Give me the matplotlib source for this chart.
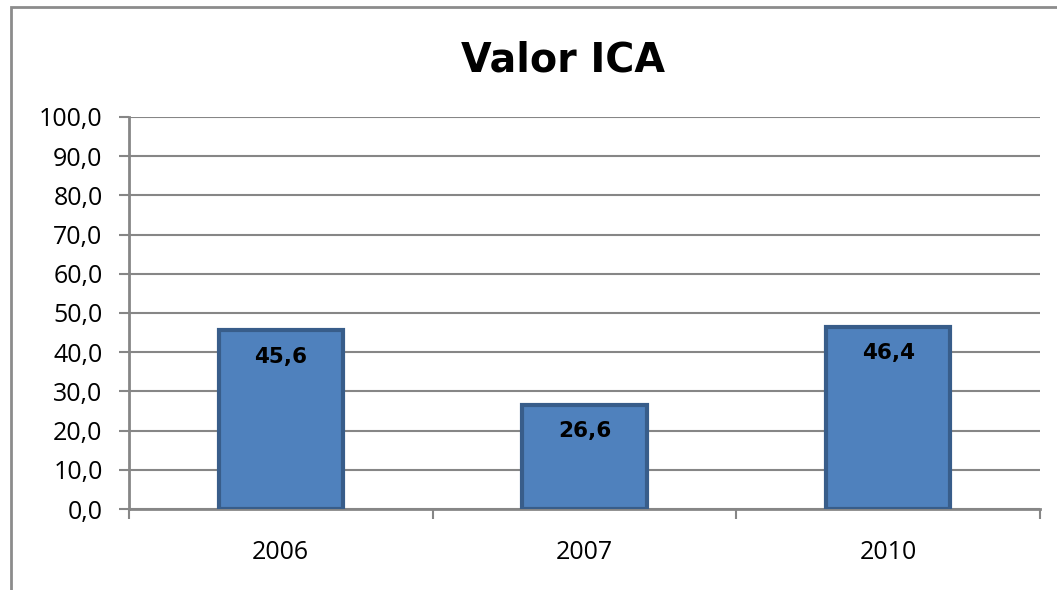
import matplotlib.pyplot as plt
import matplotlib.patches as mpatches
import numpy as np

years = ['2006', '2007', '2010']
ica = [45.6, 26.6, 46.4]

plt.rcParams['font.family'] = ['Open Sans', 'DejaVu Sans']

fig = plt.figure(figsize=(10.57, 5.9), dpi=100)
ax = fig.add_axes([0.122, 0.137, 0.862, 0.665])

# chart frame
fig.patches.append(mpatches.Rectangle((11 / 1057, -0.1), 1.2, 0.988 + 0.1,
                                      transform=fig.transFigure, fill=False,
                                      edgecolor='#8c8c8c', linewidth=2))

x = np.arange(len(years))
bars = ax.bar(x, ica, width=0.41, color='#4F81BD', edgecolor='#385D8A',
              linewidth=3, zorder=3)

for xi, v in zip(x, ica):
    ax.text(xi, v - 6.7, f'{v:.1f}'.replace('.', ','), ha='center', va='center',
            fontsize=15.5, fontweight='bold', color='black', zorder=4,
            family=['DejaVu Sans'])

ax.set_xlim(-0.5, 2.5)
ax.set_ylim(0, 100)
ax.set_yticks(np.arange(0, 101, 10))
ax.set_yticklabels([f'{v:.1f}'.replace('.', ',') for v in np.arange(0, 101, 10)],
                   fontsize=18)
ax.set_xticks(x)
ax.set_xticklabels(years, fontsize=18)
ax.set_xticks([-0.5, 0.5, 1.5, 2.5], minor=True)
ax.tick_params(axis='x', which='major', length=0, pad=22)
ax.tick_params(axis='x', which='minor', length=7, width=1.5, color='#868686')
ax.tick_params(axis='y', length=7, width=1.5, color='#868686', pad=12)

ax.grid(axis='y', color='#868686', linewidth=1.5, zorder=0)
for s in ['top', 'right']:
    ax.spines[s].set_visible(False)
for s in ['left', 'bottom']:
    ax.spines[s].set_color('#868686')
    ax.spines[s].set_linewidth(2)

fig.text(0.533, 0.898, 'Valor ICA', ha='center', va='center',
         fontsize=28.5, fontweight='bold', family=['DejaVu Sans'])

fig.savefig('out.png', dpi=100)
